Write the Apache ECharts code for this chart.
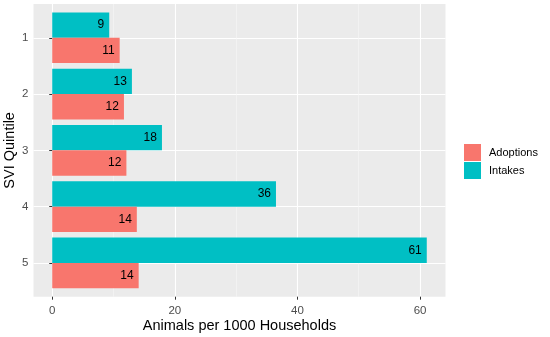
<!DOCTYPE html>
<html><head><meta charset="utf-8">
<script src="https://cdn.jsdelivr.net/npm/echarts@6/dist/echarts.min.js"></script>
<style>html,body{margin:0;padding:0;background:#fff}#c{width:550px;height:337px}</style>
</head><body><div id="c"></div>
<script>
const categories = ['1', '2', '3', '4', '5'];
const intakes = [9.3, 13.0, 17.9, 36.5, 61.1];
const adoptions = [11.0, 11.7, 12.1, 13.8, 14.1];
const intakeLabels = ['9', '13', '18', '36', '61'];
const adoptionLabels = ['11', '12', '12', '14', '14'];
const xTicks = [0, 20, 40, 60];
const xMinorTicks = [10, 30, 50];
const yTicks = [1, 2, 3, 4, 5];

const FONT = 'Liberation Sans, Arial, sans-serif';
const PL = 33.5, PT = 4, PW = 412, PH = 292.7;
const unit = PH / 5.2;
const dataMax = Math.max(...intakes, ...adoptions);
const xMin = -0.05 * dataMax, xMax = dataMax * 1.05;

const chart = echarts.init(document.getElementById('c'), null, {renderer: 'canvas'});
chart.setOption({
  animation: false,
  textStyle: {fontFamily: FONT},
  grid: [
    {left: PL, top: PT, width: PW, height: PH, show: true, backgroundColor: '#EBEBEB', borderWidth: 0,
     containLabel: false, outerBoundsMode: 'none'},
    {left: PL, top: PT + 0.1 * unit, width: PW, height: 5 * unit, show: false,
     containLabel: false, outerBoundsMode: 'none'}
  ],
  xAxis: [
    {gridIndex: 0, type: 'value', min: xMin, max: xMax,
     name: 'Animals per 1000 Households', nameLocation: 'middle', nameGap: 22, nameMoveOverlap: false,
     nameTextStyle: {color: '#000', fontSize: 14.5, fontFamily: FONT},
     axisLine: {show: false},
     axisTick: {show: true, length: 3, customValues: xTicks, lineStyle: {color: '#333', width: 1}},
     axisLabel: {customValues: xTicks, color: '#4D4D4D', fontSize: 11.5, margin: 8, fontFamily: FONT},
     splitLine: {show: true, lineStyle: {color: '#FFFFFF', width: 1.1}}},
    {gridIndex: 0, type: 'value', min: xMin, max: xMax, show: true,
     axisLine: {show: false}, axisLabel: {show: false},
     axisTick: {show: false, customValues: xMinorTicks},
     splitLine: {show: true, lineStyle: {color: '#F7F7F7', width: 0.6}}},
    {gridIndex: 1, type: 'value', min: xMin, max: xMax, show: false}
  ],
  yAxis: [
    {gridIndex: 0, type: 'value', min: 0.4, max: 5.6, inverse: true,
     name: 'SVI Quintile', nameLocation: 'middle', nameGap: 16, nameRotate: 90, nameMoveOverlap: false,
     nameTextStyle: {color: '#000', fontSize: 14.5, fontFamily: FONT},
     axisLine: {show: false},
     axisTick: {show: true, length: 3, customValues: yTicks, lineStyle: {color: '#333', width: 1}},
     axisLabel: {customValues: yTicks, color: '#4D4D4D', fontSize: 11.5, margin: 5, fontFamily: FONT,
                 formatter: v => categories[Math.round(v) - 1]},
     splitLine: {show: true, lineStyle: {color: '#FFFFFF', width: 1.1}}},
    {gridIndex: 1, type: 'category', data: categories, inverse: true, show: false}
  ],
  legend: {
    orient: 'vertical', left: 464, top: 144, padding: 0, itemWidth: 17, itemHeight: 17, itemGap: 1,
    icon: 'rect', data: ['Adoptions', 'Intakes'],
    textStyle: {color: '#000', fontSize: 11, fontFamily: FONT, padding: [0, 0, 0, 3]}
  },
  series: [
    {name: 'Intakes', type: 'bar', xAxisIndex: 2, yAxisIndex: 1, data: intakes,
     barWidth: '45%', barGap: '0%', itemStyle: {color: '#00BFC4'},
     label: {show: true, position: 'insideRight', distance: 5, color: '#000', fontSize: 12, fontFamily: FONT,
             formatter: p => intakeLabels[p.dataIndex]}},
    {name: 'Adoptions', type: 'bar', xAxisIndex: 2, yAxisIndex: 1, data: adoptions,
     barWidth: '45%', barGap: '0%', itemStyle: {color: '#F8766D'},
     label: {show: true, position: 'insideRight', distance: 5, color: '#000', fontSize: 12, fontFamily: FONT,
             formatter: p => adoptionLabels[p.dataIndex]}}
  ]
});
</script>
</body></html>
